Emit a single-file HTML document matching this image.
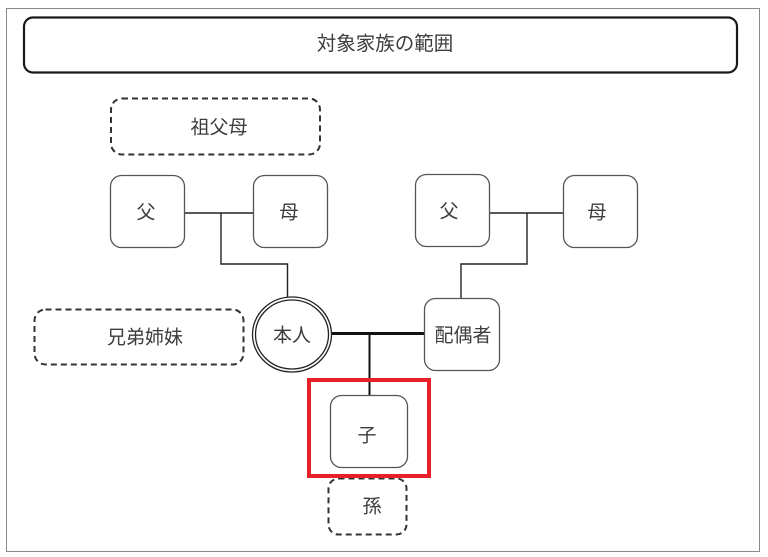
<!DOCTYPE html>
<html><head><meta charset="utf-8"><style>
html,body{margin:0;padding:0;background:#fff;width:768px;height:557px;overflow:hidden}
svg{display:block}
text{font-family:"Liberation Sans","Noto Sans CJK JP",sans-serif;fill:#3d3d3d;font-size:19px;text-anchor:middle;dominant-baseline:central}
</style></head><body>
<svg width="768" height="557" viewBox="0 0 768 557" xmlns="http://www.w3.org/2000/svg">
<rect x="6.5" y="8.5" width="753" height="543" fill="none" stroke="#8a8a8a" stroke-width="1"/>
<rect x="24" y="17.5" width="713" height="55" rx="9" fill="none" stroke="#1a1a1a" stroke-width="2.2"/>
<text x="385" y="44" style="font-size:19.5px">対象家族の範囲</text>

<rect x="111" y="98.5" width="209" height="56" rx="11" fill="none" stroke="#333" stroke-width="2" stroke-dasharray="6,4"/>
<text x="219" y="128">祖父母</text>

<rect x="34.5" y="309.5" width="209" height="55" rx="11" fill="none" stroke="#333" stroke-width="2" stroke-dasharray="6,4"/>
<text x="145" y="338">兄弟姉妹</text>

<rect x="328.5" y="478.5" width="78" height="56" rx="10" fill="none" stroke="#333" stroke-width="2" stroke-dasharray="6,4"/>
<text x="372" y="507">孫</text>

<!-- connectors -->
<g stroke="#222" stroke-width="1.4" fill="none">
<line x1="184" y1="213" x2="253" y2="213"/>
<polyline points="221,213 221,264 287.5,264 287.5,298"/>
<line x1="489" y1="213" x2="563" y2="213"/>
<polyline points="527,213 527,264 461,264 461,298"/>
</g>
<line x1="331" y1="333.5" x2="425" y2="333.5" stroke="#111" stroke-width="3"/>
<line x1="369.5" y1="333" x2="369.5" y2="396" stroke="#111" stroke-width="2"/>

<!-- family boxes -->
<g fill="#fff" stroke="#555" stroke-width="1.3">
<rect x="110.5" y="175.5" width="74" height="72" rx="11"/>
<rect x="253.5" y="175.5" width="74" height="72" rx="11"/>
<rect x="415.5" y="174.5" width="74" height="72" rx="11"/>
<rect x="563.5" y="175.5" width="74" height="72" rx="11"/>
<rect x="424.5" y="298.5" width="75" height="72" rx="11"/>
<rect x="330.5" y="395.5" width="77" height="72" rx="11"/>
</g>
<text x="146" y="213">父</text>
<text x="289" y="213">母</text>
<text x="449" y="212">父</text>
<text x="597" y="213">母</text>
<text x="463" y="336">配偶者</text>
<text x="367" y="436">子</text>

<!-- 本人 double ellipse -->
<ellipse cx="292" cy="334.5" rx="39.5" ry="37.5" fill="#fff" stroke="#222" stroke-width="1.3"/>
<ellipse cx="292" cy="334.5" rx="36.5" ry="34.5" fill="none" stroke="#222" stroke-width="1.3"/>
<text x="292" y="336">本人</text>

<!-- red highlight -->
<rect x="309" y="380" width="120" height="96" fill="none" stroke="#e8202a" stroke-width="4"/>
</svg>
</body></html>
